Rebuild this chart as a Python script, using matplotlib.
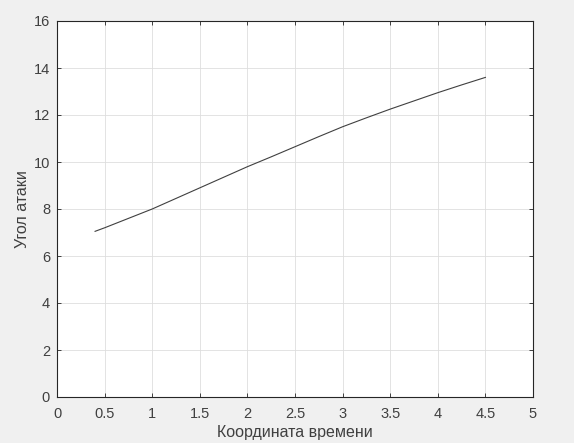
import matplotlib
matplotlib.use("Agg")
import matplotlib.pyplot as plt
import numpy as np

x = [0.4, 0.5, 0.75, 1.0, 1.25, 1.5, 1.75, 2.0, 2.25, 2.5, 2.75, 3.0, 3.25, 3.5, 3.75, 4.0, 4.25, 4.5]
y = [7.05, 7.2, 7.6, 8.0, 8.45, 8.9, 9.35, 9.8, 10.22, 10.65, 11.08, 11.5, 11.88, 12.25, 12.6, 12.95, 13.28, 13.6]
xticks = [0, 0.5, 1, 1.5, 2, 2.5, 3, 3.5, 4, 4.5, 5]
xticklabels = ["0", "0.5", "1", "1.5", "2", "2.5", "3", "3.5", "4", "4.5", "5"]
yticks = [0, 2, 4, 6, 8, 10, 12, 14, 16]

plt.rcParams['font.family'] = ['Liberation Sans', 'DejaVu Sans']
fig = plt.figure(figsize=(5.74, 4.43), dpi=100, facecolor=(0.94, 0.94, 0.94))
ax = fig.add_axes([57/574, 46/443, 476/574, 376/443])
ax.set_facecolor('white')
ax.plot(x, y, color=(0.25, 0.25, 0.25), linewidth=0.8)
ax.set_xlim(0, 5)
ax.set_ylim(0, 16)
ax.set_xticks(xticks)
ax.set_xticklabels(xticklabels)
ax.set_yticks(yticks)
ax.grid(True, color=(0.87, 0.87, 0.87), linewidth=0.6)
ax.set_axisbelow(True)
tc = (0.15, 0.15, 0.15)
lc = (0.25, 0.25, 0.25)
for s in ax.spines.values():
    s.set_color(tc)
    s.set_linewidth(0.8)
ax.tick_params(direction='in', length=3, width=0.6, colors=tc, labelcolor=lc,
               labelsize=10.5, top=True, right=True)
ax.tick_params(axis='x', pad=7)
ax.tick_params(axis='y', pad=5)
ax.set_xlabel("Координата времени", fontsize=11.5, color=lc, labelpad=3)
ax.set_ylabel("Угол атаки", fontsize=11.5, color=lc, labelpad=3)
fig.savefig("out.png", dpi=100, facecolor=fig.get_facecolor())
